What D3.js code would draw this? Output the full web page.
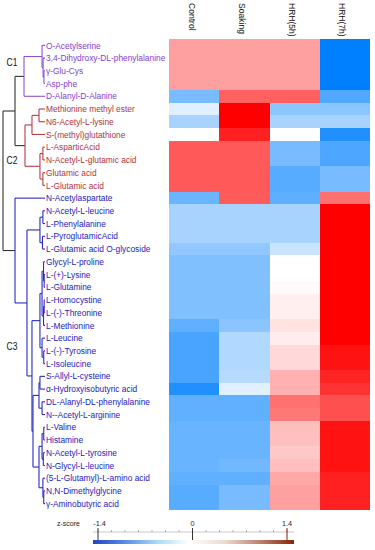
<!DOCTYPE html>
<html>
<head>
<meta charset="utf-8">
<script src="https://cdn.jsdelivr.net/npm/d3@7"></script>
<style>
  html, body { margin: 0; padding: 0; background: #fff; }
  svg { display: block; font-family: "Liberation Sans", Arial, sans-serif; }
</style>
</head>
<body>
<svg id="chart" width="375" height="550"></svg>
<script>
// ---------------- DATA ----------------
const rowNames = [
  "O-Acetylserine", "3,4-Dihydroxy-DL-phenylalanine", "γ-Glu-Cys", "Asp-phe", "D-Alanyl-D-Alanine",
  "Methionine methyl ester", "N6-Acetyl-L-lysine", "S-(methyl)glutathione", "L-AsparticAcid",
  "N-Acetyl-L-glutamic acid", "Glutamic acid", "L-Glutamic acid",
  "N-Acetylaspartate", "N-Acetyl-L-leucine", "L-Phenylalanine", "L-PyroglutamicAcid",
  "L-Glutamic acid O-glycoside", "Glycyl-L-proline", "L-(+)-Lysine", "L-Glutamine", "L-Homocystine",
  "L-(-)-Threonine", "L-Methionine", "L-Leucine", "L-(-)-Tyrosine", "L-Isoleucine",
  "S-Allyl-L-cysteine", "α-Hydroxyisobutyric acid", "DL-Alanyl-DL-phenylalanine",
  "N--Acetyl-L-arginine", "L-Valine", "Histamine", "N-Acetyl-L-tyrosine", "N-Glycyl-L-leucine",
  "(5-L-Glutamyl)-L-amino acid", "N,N-Dimethylglycine", "γ-Aminobutyric acid"
];
const rowCluster = [1,1,1,1,1, 2,2,2,2,2,2,2,
  3,3,3,3,3,3,3,3,3,3,3,3,3,3,3,3,3,3,3,3,3,3,3,3,3];
const clusterNames = ["C1", "C2", "C3"];
const columns = ["Control", "Soaking", "HRH(5h)", "HRH(7h)"];

const control = [0.52,0.52,0.52,0.52,-0.74, -0.17,-0.48,0.0,0.91,0.91,0.91,0.91,
  -0.82,-0.48,-0.48,-0.48,-0.61,-0.70,-0.70,-0.70,-0.70,-0.70,-0.87,-1.0,-1.0,-1.0,
  -1.0,-1.22,-0.87,-0.87,-0.83,-0.83,-0.83,-0.83,-0.87,-0.92,-0.92];
const soaking = [0.52,0.52,0.52,0.52,0.87, 1.4,1.4,1.22,0.91,0.91,0.91,0.91,
  0.90,-0.48,-0.48,-0.48,-0.61,-0.70,-0.70,-0.70,-0.70,-0.70,-0.64,-0.43,-0.43,-0.43,
  -0.40,-0.17,-0.87,-0.87,-0.83,-0.83,-0.83,-0.78,-0.87,-0.74,-0.74];
const hrh5 = [0.52,0.52,0.52,0.52,0.87, -0.63,-0.48,0.0,-0.74,-0.74,-0.92,-0.92,
  -0.88,-0.48,-0.48,-0.48,-0.30,0.0,0.0,0.02,0.09,0.09,0.16,0.10,0.21,0.21,
  0.43,0.43,0.78,0.74,0.35,0.35,0.30,0.35,0.48,0.52,0.52];
const hrh7 = [-1.4,-1.4,-1.4,-1.4,-0.96, -0.63,-0.48,-1.22,-0.98,-0.98,-0.74,-0.74,
  0.78,1.4,1.4,1.4,1.4,1.4,1.4,1.4,1.4,1.4,1.4,1.4,1.3,1.3,
  1.2,1.12,0.96,0.96,1.3,1.3,1.3,1.3,1.22,1.22,1.22];

// dendrogram: [mergeHeight, left, right]; leaves are row indices
const dendrogram = [10,
  [7.14,
    [5.0, [0.7, 0, [0.45, 1, [0.25, 2, 3]]], 4],
    [4.76, [3.1, [1.43, 5, 6], 7], [1.2, [0.5, 8, 9], [0.5, 10, 11]]]
  ],
  [7.14, 12,
    [4.29,
      [1.2, [0.5, 13, 14], [0.6, 15, 16]],
      [3.1,
        [1.2,
          [0.7, [0.35, 17, [0.2, 18, 19]], [0.35, [0.2, 20, 21], 22]],
          [0.7, 23, [0.3, 24, 25]]],
        [2.86,
          [1.43, [1.2, 26, 27], [0.7, 28, 29]],
          [1.43, [0.7, [0.3, 30, 31], [0.4, 32, 33]], [0.5, 34, [0.3, 35, 36]]]]
      ]
    ]
  ]
];

const zDomain = [-1.4, 0, 1.4];
const zTickLabels = ["-1.4", "0", "1.4"];

// ---------------- DRAW ----------------
const svg = d3.select("#chart");
const clusterColor = { 1: "#8a52dc", 2: "#b83a4a", 3: "#2a2ac4", 0: "#333333" };
const labelColor = { 1: "#7f42d2", 2: "#ad3444", 3: "#2222bb" };

const y = d3.scaleBand().domain(d3.range(rowNames.length)).range([39, 510]);
const x = d3.scaleBand().domain(columns).range([169, 370]);
const color = d3.scaleLinear().domain(zDomain).range(["#0080ff", "#ffffff", "#ff0000"]).clamp(true);
const series = [control, soaking, hrh5, hrh7];

// heatmap
const cells = [];
series.forEach((vals, ci) => vals.forEach((v, ri) => cells.push({ c: columns[ci], r: ri, v })));
svg.append("g").selectAll("rect").data(cells).join("rect")
  .attr("x", d => x(d.c)).attr("y", d => y(d.r))
  .attr("width", x.bandwidth() + 0.3).attr("height", y.bandwidth() + 0.3)
  .attr("fill", d => color(d.v)).attr("shape-rendering", "crispEdges");

// column labels (rotated)
svg.append("g").selectAll("text").data(columns).join("text")
  .attr("transform", d => `translate(${x(d) + x.bandwidth() / 2 - 3},3) rotate(90) scale(0.93,1)`)
  .attr("font-size", 9.2).attr("fill", "#111").attr("dominant-baseline", "middle")
  .text(d => d);

// row labels
const rowY = i => y(i) + y.bandwidth() / 2;
svg.append("g").selectAll("text").data(rowNames).join("text")
  .attr("transform", (d, i) => `translate(46,${rowY(i)}) scale(0.9,1)`)
  .attr("font-size", 9.3).attr("dominant-baseline", "central")
  .attr("fill", (d, i) => labelColor[rowCluster[i]])
  .text(d => d);

// dendrogram
const hx = d3.scaleLinear().domain([0, 10]).range([45, 3]);
function build(n) {
  if (typeof n === "number") return { leaf: true, h: 0, y: rowY(n), cl: rowCluster[n] };
  const a = build(n[1]), b = build(n[2]);
  const cl = (a.cl === b.cl) ? a.cl : 0;
  return { leaf: false, h: n[0], y: (a.y + b.y) / 2, kids: [a, b], cl };
}
const root = build(dendrogram);
const dg = svg.append("g").attr("fill", "none").attr("stroke-width", 1.1);
function drawNode(nd) {
  if (nd.leaf) return;
  const c = clusterColor[nd.cl];
  const px = hx(nd.h);
  dg.append("line").attr("x1", px).attr("x2", px)
    .attr("y1", nd.kids[0].y).attr("y2", nd.kids[1].y).attr("stroke", c);
  nd.kids.forEach(k => {
    dg.append("line").attr("x1", px).attr("x2", hx(k.h))
      .attr("y1", k.y).attr("y2", k.y).attr("stroke", c);
    drawNode(k);
  });
}
drawNode(root);

// cluster labels
const clusterLabelRow = [1.38, 9.08, 23.7];
svg.append("g").selectAll("text").data(clusterNames).join("text")
  .attr("transform", (d, i) => `translate(6.5,${45.4 + clusterLabelRow[i] * y.step()}) scale(0.85,1)`)
  .attr("font-size", 10).attr("dominant-baseline", "central").attr("fill", "#111")
  .text(d => d);

// color bar
const zx = d3.scaleLinear().domain([-1.4, 1.4]).range([98, 287]);
const defs = svg.append("defs");
const grad = defs.append("linearGradient").attr("id", "zgrad").attr("x1", "0%").attr("x2", "100%");
[["0%", "#2343c4"], ["14%", "#4f84e2"], ["32%", "#a9dcf6"], ["48%", "#ffffff"],
 ["66%", "#ecd8cf"], ["84%", "#bd7b68"], ["100%", "#86260a"]]
  .forEach(s => grad.append("stop").attr("offset", s[0]).attr("stop-color", s[1]));
svg.append("rect").attr("x", 93).attr("y", 540).attr("width", 201).attr("height", 4)
  .attr("fill", "url(#zgrad)");

const ag = svg.append("g").attr("stroke", "#666").attr("stroke-width", 0.8);
ag.append("line").attr("x1", 93).attr("x2", 294).attr("y1", 532).attr("y2", 532).attr("stroke", "#bbb");
d3.range(-1.4, 1.41, 0.2).forEach(t => {
  ag.append("line").attr("x1", zx(t)).attr("x2", zx(t)).attr("y1", 530).attr("y2", 532).attr("stroke", "#999");
});
zDomain.forEach(t => {
  ag.append("line").attr("x1", zx(t)).attr("x2", zx(t)).attr("y1", 528).attr("y2", 540)
    .attr("stroke", t === 1.4 ? "#8a1a10" : "#333").attr("stroke-width", 1);
});
svg.append("g").selectAll("text").data(zDomain).join("text")
  .attr("transform", (d, i) => `translate(${zx(d) + (i === 0 ? 1.5 : 0)},523) scale(0.9,1)`)
  .attr("text-anchor", "middle")
  .attr("font-size", 8).attr("dominant-baseline", "central").attr("fill", "#222")
  .text((d, i) => zTickLabels[i]);
svg.append("text").attr("transform", "translate(57,523) scale(0.88,1)")
  .attr("font-size", 8).attr("dominant-baseline", "central").attr("fill", "#222")
  .text("z-score");
</script>
</body>
</html>
